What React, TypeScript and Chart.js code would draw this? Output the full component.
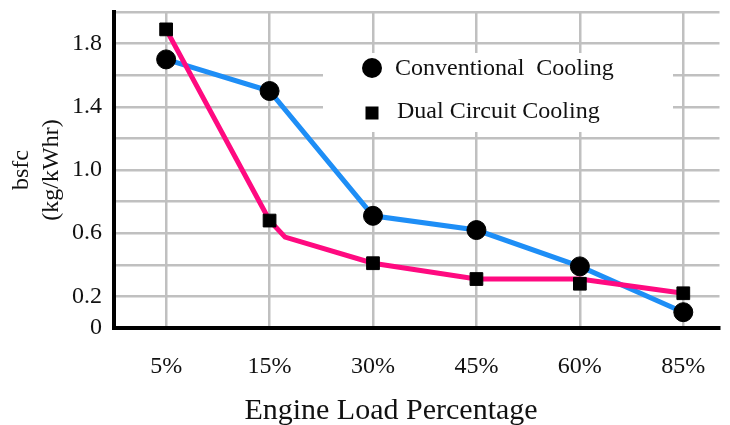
import React, { useEffect, useRef } from 'react';
import { Chart, registerables } from 'chart.js';

Chart.register(...registerables);

// ---- data ----
const categories = ['5%', '15%', '30%', '45%', '60%', '85%'];
const seriesNames = ['Conventional  Cooling', 'Dual Circuit Cooling'];
const conventional = [1.7, 1.5, 0.71, 0.62, 0.39, 0.1];
const dualCircuit = [1.89, 0.68, 0.41, 0.31, 0.28, 0.22];
// the pink connecting line bends just after the 15% point
const dualLineX = [0, 1, 1.15, 2, 3, 4, 5];
const dualLineY = [1.89, 0.68, 0.575, 0.41, 0.31, 0.31, 0.22];
const yTickLabels = ['0', '0.2', '0.6', '1.0', '1.4', '1.8'];
const xTitle = 'Engine Load Percentage';
const yTitle = ['bsfc', '(kg/kWhr)'];

const FONT = '"Liberation Serif", "Times New Roman", serif';
const BLUE = '#1E8EF6';
const PINK = '#FF0A80';

export default function App() {
  const ref = useRef<HTMLCanvasElement>(null);

  useEffect(() => {
    document.body.style.margin = '0';
    const canvas = ref.current!;

    const overlay = {
      id: 'overlay',
      beforeDatasetsDraw(chart: any) {
        const { ctx, chartArea: a } = chart;
        ctx.save();
        ctx.fillStyle = '#ffffff';
        ctx.fillRect(a.left + 209, a.top + 41, 350, 79);
        ctx.fillStyle = '#000000';
        ctx.beginPath();
        ctx.arc(a.left + 258, a.top + 56, 10, 0, Math.PI * 2);
        ctx.fill();
        ctx.fillRect(a.left + 258 - 6.5, a.top + 101 - 6.5, 13, 13);
        ctx.font = `24px ${FONT}`;
        ctx.fillStyle = '#111111';
        ctx.textAlign = 'left';
        ctx.textBaseline = 'alphabetic';
        ctx.fillText(seriesNames[0], a.left + 281, a.top + 63);
        ctx.fillText(seriesNames[1], a.left + 283, a.top + 106);
        ctx.restore();
      },
      afterDraw(chart: any) {
        const { ctx, chartArea: a } = chart;
        ctx.save();
        ctx.font = `30px ${FONT}`;
        ctx.fillStyle = '#111111';
        ctx.textAlign = 'center';
        ctx.textBaseline = 'alphabetic';
        ctx.fillText(xTitle, a.left + 277, a.bottom + 91);
        ctx.restore();
      },
    };

    const chart = new Chart(canvas, {
      type: 'scatter',
      data: {
        datasets: [
          {
            label: seriesNames[0],
            data: conventional.map((y, i) => ({ x: i, y })),
            pointStyle: 'circle',
            pointRadius: 9.5,
            pointBackgroundColor: '#000',
            pointBorderColor: '#000',
            pointBorderWidth: 1,
            showLine: false,
            order: 0,
          },
          {
            label: seriesNames[1],
            data: dualCircuit.map((y, i) => ({ x: i, y })),
            pointStyle: 'rect',
            pointRadius: 9,
            pointBackgroundColor: '#000',
            pointBorderColor: '#000',
            pointBorderWidth: 1,
            showLine: false,
            order: 1,
          },
          {
            label: seriesNames[1] + ' line',
            data: dualLineX.map((x, i) => ({ x, y: dualLineY[i] })),
            showLine: true,
            borderColor: PINK,
            borderWidth: 5,
            pointRadius: 0,
            tension: 0,
            order: 2,
          },
          {
            label: seriesNames[0] + ' line',
            data: conventional.map((y, i) => ({ x: i, y })),
            showLine: true,
            borderColor: BLUE,
            borderWidth: 5,
            pointRadius: 0,
            tension: 0,
            order: 3,
          },
        ],
      },
      options: {
        animation: false,
        responsive: false,
        devicePixelRatio: 1,
        events: [],
        layout: { padding: { top: 12, left: 0, right: 0, bottom: 0 } },
        plugins: {
          legend: { display: false },
          tooltip: { enabled: false },
        },
        scales: {
          x: {
            type: 'linear',
            min: -0.504,
            max: 5.35,
            afterBuildTicks: (scale: any) => {
              scale.ticks = categories.map((_, i) => ({ value: i }));
            },
            afterFit: (scale: any) => {
              scale.height = 97;
              scale.paddingLeft = 0;
              scale.paddingRight = 0;
            },
            ticks: {
              callback: (v: any) => categories[Math.round(Number(v))] ?? '',
              font: { family: FONT, size: 24 },
              color: '#111',
              padding: 24,
              maxRotation: 0,
              autoSkip: false,
            },
            grid: { color: '#c0c0c0', lineWidth: 2.5, drawTicks: false },
            border: { color: '#000', width: 4 },
          },
          y: {
            type: 'linear',
            min: 0,
            max: 2.0,
            afterFit: (scale: any) => {
              scale.width = 114;
              scale.paddingTop = 0;
              scale.paddingBottom = 0;
            },
            ticks: {
              stepSize: 0.2,
              autoSkip: false,
              callback: (v: any) => {
                const n = Number(v);
                const s = Math.abs(n) < 1e-9 ? '0' : n.toFixed(1);
                return yTickLabels.includes(s) ? s : '';
              },
              font: { family: FONT, size: 24 },
              color: '#111',
              padding: 12,
            },
            grid: {
              color: (c: any) => (Math.abs(c.tick?.value ?? 0) < 1e-9 ? 'rgba(0,0,0,0)' : '#c0c0c0'),
              lineWidth: 2.5,
              drawTicks: false,
            },
            border: { color: '#000', width: 4 },
            title: {
              display: true,
              text: yTitle,
              font: { family: FONT, size: 24, lineHeight: 1.25 },
              color: '#111',
              padding: { top: 7, bottom: 0 },
            },
          },
        },
      },
      plugins: [overlay],
    });

    return () => chart.destroy();
  }, []);

  return (
    <div style={{ width: 730, height: 425 }}>
      <canvas ref={ref} width={730} height={425} />
    </div>
  );
}
